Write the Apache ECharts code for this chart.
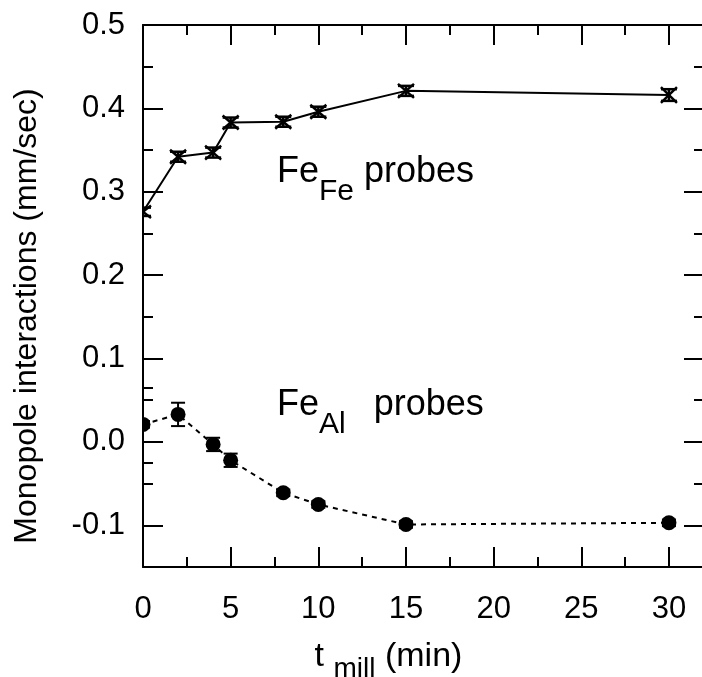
<!DOCTYPE html>
<html><head><meta charset="utf-8">
<script src="https://cdn.jsdelivr.net/npm/echarts@6/dist/echarts.min.js"></script>
<style>html,body{margin:0;padding:0;background:#fff}#c{width:702px;height:677px}</style>
</head><body><div id="c"></div>
<script>
const xMill = [0, 2, 4, 5, 8, 10, 15, 30];
const feFe = [0.276, 0.342, 0.347, 0.383, 0.384, 0.396, 0.421, 0.416];
const feFeErr = [0.005, 0.006, 0.006, 0.006, 0.006, 0.006, 0.006, 0.007];
const feAl = [0.021, 0.033, -0.003, -0.022, -0.061, -0.075, -0.099, -0.097];
const feAlErr = [0.004, 0.014, 0.008, 0.008, 0.004, 0.004, 0.004, 0.004];
const xMajorTicks = [0, 5, 10, 15, 20, 25, 30];
const xMinorTicks = [2.5, 7.5, 12.5, 17.5, 22.5, 27.5];
const yMajorTicks = [-0.1, 0.0, 0.1, 0.2, 0.3, 0.4, 0.5];
const yMinorTicks = [-0.05, 0.05, 0.15, 0.25, 0.35, 0.45];
const yLeftExtraTicks = [-0.025, 0.065];

const FONT = '"Liberation Sans", Arial, Helvetica, sans-serif';
const X_MIN = 0, X_MAX = 32, Y_MIN = -0.15, Y_MAX = 0.5;

function xAx(pos, ticks, len, labels, line) {
  return {
    type: 'value', position: pos, min: X_MIN, max: X_MAX,
    axisLine: { show: line, onZero: false, lineStyle: { color: '#000', width: 2 } },
    axisTick: { show: true, inside: true, length: len, customValues: ticks, lineStyle: { color: '#000', width: 2 } },
    axisLabel: labels ? { show: true, customValues: xMajorTicks, margin: 27, color: '#000', fontSize: 31, fontFamily: FONT } : { show: false },
    splitLine: { show: false }
  };
}
function yAx(pos, ticks, len, labels, line) {
  return {
    type: 'value', position: pos, min: Y_MIN, max: Y_MAX,
    axisLine: { show: line, onZero: false, lineStyle: { color: '#000', width: 2 } },
    axisTick: { show: true, inside: true, length: len, customValues: ticks, lineStyle: { color: '#000', width: 2 } },
    axisLabel: labels ? { show: true, customValues: yMajorTicks, margin: 18, color: '#000', fontSize: 31, fontFamily: FONT,
      formatter: v => v.toFixed(1) } : { show: false },
    splitLine: { show: false }
  };
}

const feFeData = xMill.map((x, i) => [x, feFe[i], feFeErr[i]]);
const feAlData = xMill.map((x, i) => [x, feAl[i], feAlErr[i]]);

function renderFe(params, api) {
  const x = api.value(0), y = api.value(1), e = api.value(2);
  const p = api.coord([x, y]);
  const t = api.coord([x, y + e]);
  const b = api.coord([x, y - e]);
  const w = 8;
  const st = { stroke: '#000', lineWidth: 2.5 };
  return { type: 'group', children: [
    { type: 'line', shape: { x1: p[0], y1: t[1], x2: p[0], y2: b[1] }, style: st },
    { type: 'line', shape: { x1: p[0] - w, y1: t[1], x2: p[0] + w, y2: t[1] }, style: st },
    { type: 'line', shape: { x1: p[0] - w, y1: b[1], x2: p[0] + w, y2: b[1] }, style: st },
    { type: 'line', shape: { x1: p[0] - w, y1: t[1] - 2, x2: p[0] + w, y2: b[1] + 2 }, style: st },
    { type: 'line', shape: { x1: p[0] - w, y1: b[1] + 2, x2: p[0] + w, y2: t[1] - 2 }, style: st }
  ]};
}
function renderAl(params, api) {
  const x = api.value(0), y = api.value(1), e = api.value(2);
  const p = api.coord([x, y]);
  const t = api.coord([x, y + e]);
  const b = api.coord([x, y - e]);
  const w = 7;
  const st = { stroke: '#000', lineWidth: 2 };
  return { type: 'group', children: [
    { type: 'line', shape: { x1: p[0], y1: t[1], x2: p[0], y2: b[1] }, style: st },
    { type: 'line', shape: { x1: p[0] - w, y1: t[1], x2: p[0] + w, y2: t[1] }, style: st },
    { type: 'line', shape: { x1: p[0] - w, y1: b[1], x2: p[0] + w, y2: b[1] }, style: st },
    { type: 'circle', shape: { cx: p[0], cy: p[1], r: 7.5 }, style: { fill: '#000' } }
  ]};
}

const chart = echarts.init(document.getElementById('c'), null, { renderer: 'canvas' });
chart.setOption({
  animation: false,
  backgroundColor: '#fff',
  grid: { left: 143, top: 25, width: 561, height: 542, containLabel: false, outerBoundsMode: 'none' },
  xAxis: [
    Object.assign(xAx('bottom', xMajorTicks, 20, true, true), {
      name: '{a|t }{s|mill}{a| (min)}', nameLocation: 'middle', nameGap: 64,
      nameTextStyle: { padding: [0, 70, 0, 0], rich: {
        a: { fontSize: 34, fontFamily: FONT, color: '#000' },
        s: { fontSize: 28, fontFamily: FONT, color: '#000', padding: [24, 0, 0, 0] } } }
    }),
    xAx('bottom', xMinorTicks, 10, false, false),
    xAx('top', xMajorTicks, 20, false, true),
    xAx('top', xMinorTicks, 10, false, false)
  ],
  yAxis: [
    Object.assign(yAx('left', yMajorTicks, 20, true, true), {
      name: 'Monopole interactions (mm/sec)', nameLocation: 'middle', nameGap: 100,
      nameTextStyle: { fontSize: 32, fontFamily: FONT, color: '#000', padding: [0, 40, 0, 0] }
    }),
    yAx('left', yMinorTicks.concat(yLeftExtraTicks), 10, false, false),
    yAx('right', yMajorTicks, 20, false, false),
    yAx('right', yMinorTicks, 10, false, false)
  ],
  series: [
    { type: 'line', name: 'FeFe', data: feFeData.map(d => [d[0], d[1]]), showSymbol: false, symbol: 'none',
      lineStyle: { color: '#000', width: 2 }, clip: true, z: 2 },
    { type: 'line', name: 'FeAl', data: feAlData.map(d => [d[0], d[1]]), showSymbol: false, symbol: 'none',
      lineStyle: { color: '#000', width: 2, type: [5, 5] }, clip: true, z: 2 },
    { type: 'custom', name: 'FeFe err', data: feFeData, renderItem: renderFe, clip: true, z: 3,
      encode: { x: 0, y: 1 } },
    { type: 'custom', name: 'FeAl err', data: feAlData, renderItem: renderAl, clip: true, z: 3,
      encode: { x: 0, y: 1 } }
  ],
  graphic: [
    { type: 'text', left: 277, top: 154, style: { text: '{a|Fe}{s|Fe}{a| probes}', rich: {
        a: { fontSize: 36, fontFamily: FONT, fill: '#000' },
        s: { fontSize: 30, fontFamily: FONT, fill: '#000', padding: [40, 0, 0, 0] } } } },
    { type: 'text', left: 277, top: 387, style: { text: '{a|Fe}{s|Al}{b|probes}', rich: {
        a: { fontSize: 36, fontFamily: FONT, fill: '#000' },
        b: { fontSize: 36, fontFamily: FONT, fill: '#000', padding: [0, 0, 0, 28] },
        s: { fontSize: 30, fontFamily: FONT, fill: '#000', padding: [40, 0, 0, 0] } } } }
  ]
});
</script></body></html>
